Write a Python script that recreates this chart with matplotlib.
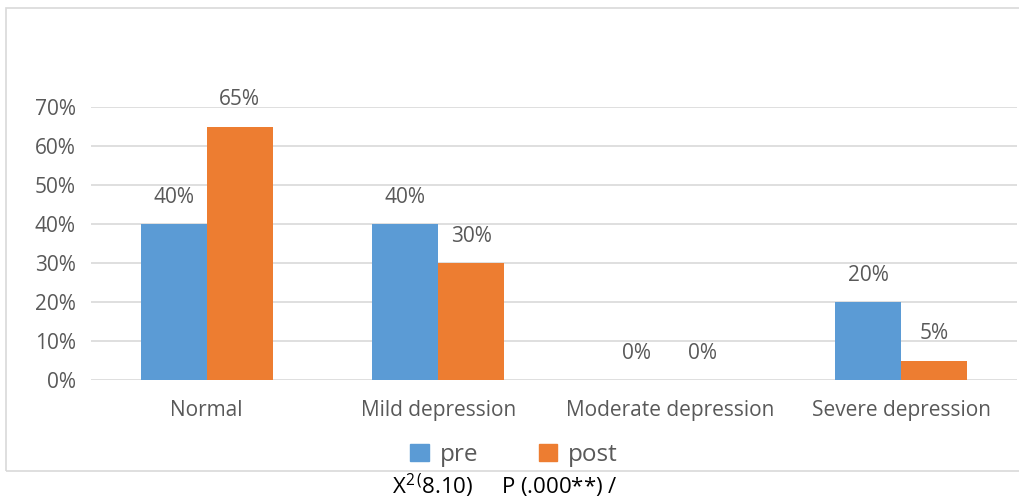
import matplotlib.pyplot as plt
import numpy as np
from matplotlib.patches import Rectangle, Patch

plt.rcParams['font.family'] = ['Open Sans', 'DejaVu Sans']
plt.rcParams['mathtext.fontset'] = 'custom'
plt.rcParams['mathtext.rm'] = 'Open Sans'

categories = ['Normal', 'Mild depression', 'Moderate depression', 'Severe depression']
pre = [40, 40, 0, 20]
post = [65, 30, 0, 5]
yticks = [0, 10, 20, 30, 40, 50, 60, 70]

blue = '#5B9BD5'
orange = '#ED7D31'
grid = '#D9D9D9'
txt = '#595959'

W, H = 1019, 504
fig = plt.figure(figsize=(W / 100, H / 100), dpi=100)

# outer chart frame (right side runs off the image)
fig.patches.append(Rectangle((6 / W, 1 - 471 / H), 1.2, (471 - 8) / H,
                             transform=fig.transFigure, fill=False,
                             edgecolor=grid, lw=1.2))

ax = fig.add_axes([91 / W, 1 - 380 / H, 926 / W, 273 / H])
x = np.arange(len(categories))
w = 0.285
b1 = ax.bar(x - w / 2, pre, w, color=blue, zorder=3)
b2 = ax.bar(x + w / 2, post, w, color=orange, zorder=3)

for bars, vals in ((b1, pre), (b2, post)):
    for r, v in zip(bars, vals):
        ax.annotate('%d%%' % v, (r.get_x() + r.get_width() / 2, v),
                    xytext=(0, 15.3), textcoords='offset points',
                    ha='center', va='baseline', fontsize=15, color=txt,
                    annotation_clip=False)

ax.set_xlim(-0.5, 3.5)
ax.set_ylim(0, 70)
ax.set_yticks(yticks)
ax.set_yticklabels(['%d%%' % t for t in yticks])
ax.set_xticks(x)
ax.set_xticklabels(categories)
ax.tick_params(axis='y', length=0, pad=11, labelsize=15, labelcolor=txt)
ax.tick_params(axis='x', length=0, pad=14.5, labelsize=15, labelcolor=txt)
ax.yaxis.grid(True, color=grid, lw=1.2, zorder=0)
for s in ax.spines.values():
    s.set_visible(False)

handles = [Patch(color=blue, label='pre'), Patch(color=orange, label='post')]
fig.legend(handles=handles, loc='center', bbox_to_anchor=(514 / W, 1 - 455 / H),
           ncol=2, frameon=False, fontsize=17.5, labelcolor=txt,
           handlelength=0.75, handleheight=0.72, handletextpad=0.45,
           columnspacing=2.5)

fig.text(505 / W, 1 - 486 / H, r'X$^{2\,(}$8.10)     P (.000**) /',
         ha='center', va='center', fontsize=16, color='black')

fig.savefig('out.png', dpi=100, facecolor='white')
